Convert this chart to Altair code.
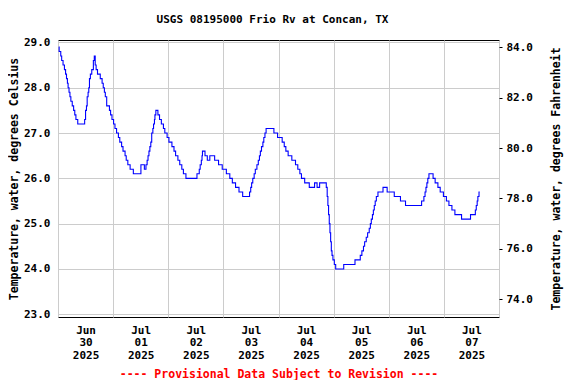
import altair as alt
import pandas as pd

FONT = "DejaVu Sans Mono"

title_text = "USGS 08195000 Frio Rv at Concan, TX"
footer_text = "---- Provisional Data Subject to Revision ----"
left_title = "Temperature, water, degrees Celsius"
right_title = "Temperature, water, degrees Fahrenheit"

# hours since 2025-06-30 00:00 where the reading changes to the given level
hours = [
    0.3, 0.5, 1.2, 1.6, 2.2, 2.8, 3.3, 3.7, 4.1, 4.4, 4.8, 5.2, 5.6, 6.2, 6.8, 7.3, 7.8, 8.6,
    11.6, 12.0, 12.4, 12.7, 13.1, 13.4, 13.7, 14.1, 14.7, 15.4, 15.8, 16.2, 16.6, 17.2, 18.4,
    19.2, 19.7, 20.2, 20.6, 21.2, 22.4, 22.9, 23.5, 24.2, 24.8, 25.5, 26.3, 26.9, 27.7, 28.3,
    29.2, 29.7, 30.4, 31.4, 32.8, 36.1, 37.6, 38.3, 38.8, 39.2, 39.6, 40.0, 40.4, 40.8, 41.3,
    41.6, 42.0, 42.2, 42.6, 43.5, 44.2, 45.0, 45.9, 46.5, 47.5, 48.3, 49.6, 50.5, 51.2, 52.2,
    53.0, 53.9, 54.6, 55.7, 60.5, 61.5, 61.9, 62.4, 62.7, 62.9, 64.0, 65.0, 66.1, 68.2, 69.9,
    71.5, 73.3, 74.8, 75.9, 77.3, 78.8, 80.4, 83.4, 83.9, 84.3, 84.8, 85.4, 85.9, 86.6, 87.2,
    87.7, 88.1, 88.6, 89.2, 89.6, 90.1, 90.6, 94.0, 95.6, 97.6, 98.5, 99.2, 100.2, 101.8,
    103.4, 104.4, 105.3, 106.0, 107.4, 109.4, 111.7, 112.8, 113.9, 116.8, 117.2, 117.5, 117.8,
    118.1, 118.4, 118.7, 119.0, 119.3, 119.7, 120.3, 120.9, 124.4, 129.3, 131.6, 132.3, 133.0,
    133.5, 134.2, 134.8, 135.5, 136.0, 136.4, 136.9, 137.3, 137.7, 138.1, 138.6, 139.3, 141.5,
    143.3, 146.4, 149.1, 151.3, 158.3, 159.3, 159.8, 160.2, 160.6, 161.0, 161.5, 163.3, 164.2,
    165.4, 166.4, 167.8, 169.1, 170.2, 171.5, 172.8, 175.7, 179.6, 181.7, 182.1, 182.5, 182.8,
    183.3, 183.6,
]
temps_c = [
    28.9, 28.8, 28.7, 28.6, 28.5, 28.4, 28.3, 28.2, 28.1, 28.0, 27.9, 27.8, 27.7, 27.6, 27.5, 27.4, 27.3, 27.2,
    27.3, 27.5, 27.6, 27.8, 27.9, 28.0, 28.2, 28.3, 28.4, 28.6, 28.7, 28.5, 28.4, 28.3, 28.2,
    28.1, 28.0, 27.9, 27.8, 27.6, 27.5, 27.4, 27.3, 27.2, 27.1, 27.0, 26.9, 26.8, 26.7, 26.6,
    26.5, 26.4, 26.3, 26.2, 26.1, 26.3, 26.2, 26.3, 26.4, 26.5, 26.6, 26.7, 26.8, 27.0, 27.1,
    27.2, 27.3, 27.4, 27.5, 27.4, 27.3, 27.2, 27.1, 27.0, 26.9, 26.8, 26.7, 26.6, 26.5, 26.4,
    26.3, 26.2, 26.1, 26.0, 26.1, 26.2, 26.3, 26.4, 26.5, 26.6, 26.5, 26.4, 26.5, 26.4, 26.3,
    26.2, 26.1, 26.0, 25.9, 25.8, 25.7, 25.6, 25.7, 25.8, 25.9, 26.0, 26.1, 26.2, 26.3, 26.4,
    26.5, 26.6, 26.7, 26.8, 26.9, 27.0, 27.1, 27.0, 26.9, 26.8, 26.7, 26.6, 26.5, 26.4,
    26.3, 26.2, 26.1, 26.0, 25.9, 25.8, 25.9, 25.8, 25.9, 25.8, 25.6, 25.4, 25.2,
    25.0, 24.8, 24.6, 24.4, 24.3, 24.2, 24.1, 24.0, 24.1, 24.2, 24.3, 24.4, 24.5,
    24.6, 24.7, 24.8, 24.9, 25.0, 25.1, 25.2, 25.3, 25.4, 25.5, 25.6, 25.7, 25.8,
    25.7, 25.6, 25.5, 25.4, 25.5, 25.6, 25.7, 25.8, 25.9, 26.0, 26.1, 26.0, 25.9,
    25.8, 25.7, 25.6, 25.5, 25.4, 25.3, 25.2, 25.1, 25.2, 25.3, 25.4, 25.5, 25.6,
    25.7, 25.7,
]

tick_months = ["Jun", "Jul", "Jul", "Jul", "Jul", "Jul", "Jul", "Jul"]
tick_days = ["30", "01", "02", "03", "04", "05", "06", "07"]
tick_years = ["2025"] * 8
axis_hours = list(range(0, 193, 12))
c_ticks = [23, 24, 25, 26, 27, 28, 29]
f_ticks = [74, 76, 78, 80, 82, 84]

c_domain = [22.94, 29.053]
f_domain = [c * 1.8 + 32 for c in c_domain]

df = pd.DataFrame({"h": hours, "c": temps_c})


def js_list(items):
    return "[" + ",".join(f"'{s}'" for s in items) + "]"


idx = "floor(datum.value / 24)"
label_expr = (
    f"(datum.value % 24 === 12) ? "
    f"[{js_list(tick_months)}[{idx}], {js_list(tick_days)}[{idx}], {js_list(tick_years)}[{idx}]]"
    f" : ''"
)

x_axis = alt.Axis(
    values=axis_hours,
    labelExpr=label_expr,
    labelOverlap=False,
    labelFlush=False,
    labelBound=False,
    ticks=False,
    tickSize=0,
    labelPadding=7,
    labelLineHeight=12.7,
    domain=False,
    grid=True,
    gridColor="#cccccc",
    gridOpacity={"condition": {"test": "datum.value % 24 === 0", "value": 1}, "value": 0},
    title=footer_text,
    titleColor="#ff0000",
    titlePadding=8,
)
x_scale = alt.Scale(domain=[0, 192], nice=False, zero=False)

line = alt.Chart(df).mark_line(
    color="#0000ff", strokeWidth=1.1, interpolate="step-after"
).encode(
    x=alt.X("h:Q", scale=x_scale, axis=x_axis),
    y=alt.Y(
        "c:Q",
        scale=alt.Scale(domain=c_domain, nice=False, zero=False),
        axis=alt.Axis(
            values=c_ticks,
            format=".1f",
            orient="left",
            ticks=False,
            tickSize=0,
            labelPadding=8,
            domain=False,
            grid=True,
            gridColor="#cccccc",
            title=left_title,
            titlePadding=4,
        ),
    ),
)

right = alt.Chart(df).transform_calculate(
    f="datum.c * 1.8 + 32"
).mark_line(opacity=0).encode(
    x=alt.X("h:Q", scale=x_scale, axis=x_axis),
    y=alt.Y(
        "f:Q",
        scale=alt.Scale(domain=f_domain, nice=False, zero=False),
        axis=alt.Axis(
            values=f_ticks,
            format=".1f",
            orient="right",
            ticks=True,
            tickSize=3,
            tickColor="black",
            labelPadding=4,
            domain=False,
            grid=False,
            title=right_title,
            titleAngle=270,
            titleBaseline="top",
            titlePadding=18,
        ),
    ),
)

chart = alt.layer(line, right).resolve_scale(y="independent").properties(
    width=441,
    height=277,
    title=alt.TitleParams(
        title_text, font=FONT, fontSize=11, fontWeight="bold", color="black",
        anchor="middle", offset=11, dx=-6,
    ),
    padding={"left": 0, "top": 6, "right": 5, "bottom": 0},
).configure_view(
    stroke="black", strokeWidth=1
).configure_axis(
    labelFont=FONT, labelFontSize=11, labelFontWeight="bold", labelColor="black",
    titleFont=FONT, titleFontSize=11.5, titleFontWeight="bold", titleColor="black",
)

chart.save("out.html", embed_options={"renderer": "svg", "actions": False})
